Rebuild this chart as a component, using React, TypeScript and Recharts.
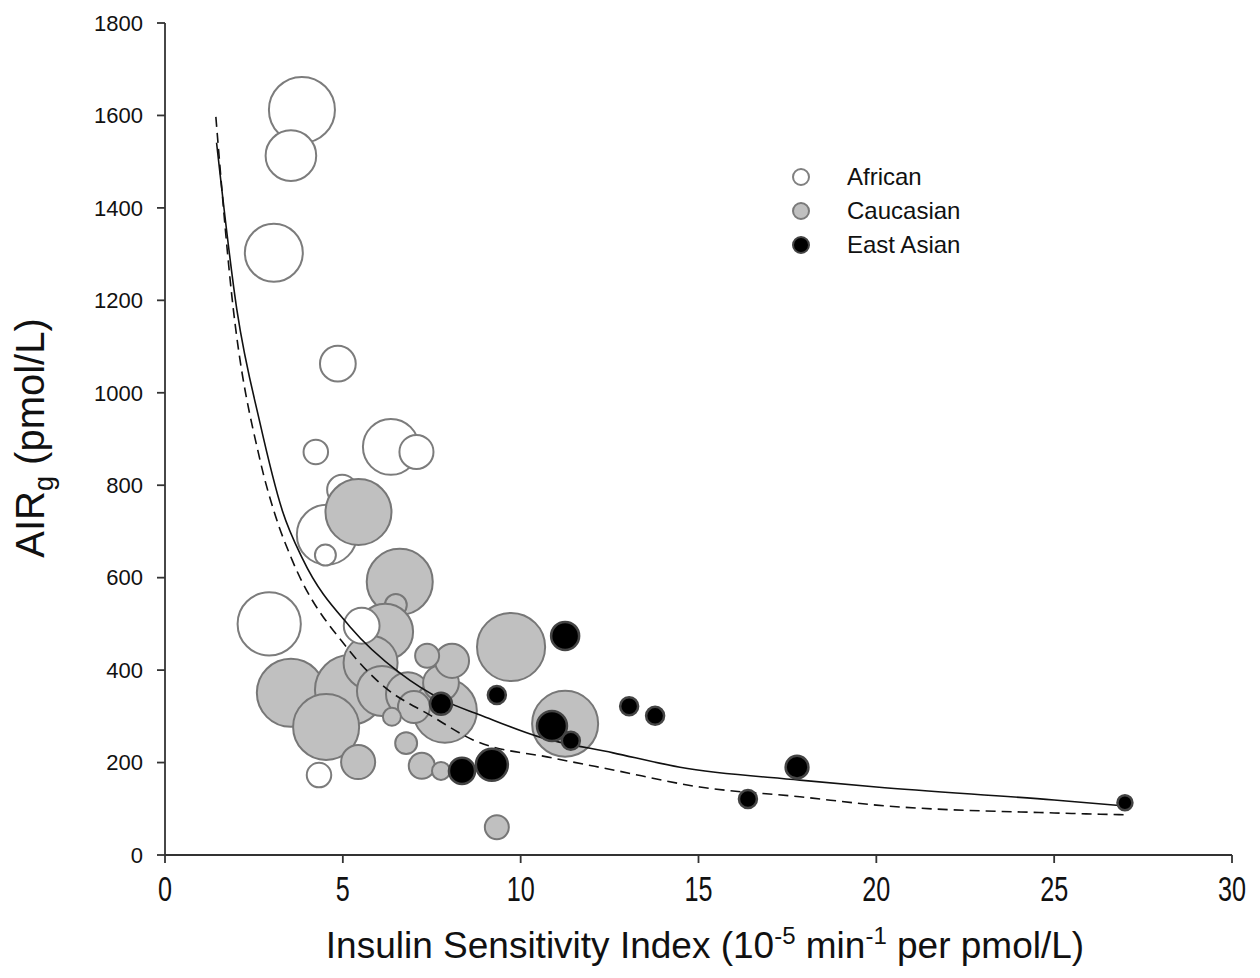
import { ScatterChart, Scatter, XAxis, YAxis, ZAxis, Legend } from 'recharts';

// bubbles: x = insulin sensitivity, y = AIRg, z = relative bubble size
const african = [
  { x: 3.85, y: 1612, z: 1090 },
  { x: 3.54, y: 1513, z: 640 },
  { x: 3.06, y: 1303, z: 840 },
  { x: 4.86, y: 1063, z: 320 },
  { x: 4.24, y: 872, z: 150 },
  { x: 6.35, y: 883, z: 780 },
  { x: 7.07, y: 872, z: 290 },
  { x: 4.98, y: 790, z: 225 },
  { x: 4.55, y: 693, z: 900 },
  { x: 4.51, y: 649, z: 110 },
  { x: 2.93, y: 500, z: 1000 },
  { x: 4.33, y: 173, z: 150 },
];

// this one sits on top of the grey bubbles in the original
const africanFront = [{ x: 5.53, y: 496, z: 320 }];

const caucasian = [
  { x: 5.44, y: 742, z: 1090 },
  { x: 6.6, y: 591, z: 1090 },
  { x: 6.49, y: 541, z: 120 },
  { x: 6.19, y: 483, z: 780 },
  { x: 3.54, y: 351, z: 1160 },
  { x: 5.2, y: 357, z: 1225 },
  { x: 4.53, y: 277, z: 1090 },
  { x: 5.78, y: 416, z: 730 },
  { x: 6.1, y: 355, z: 625 },
  { x: 6.83, y: 348, z: 480 },
  { x: 7.87, y: 312, z: 1020 },
  { x: 7.0, y: 320, z: 256 },
  { x: 6.38, y: 299, z: 81 },
  { x: 7.76, y: 372, z: 320 },
  { x: 8.07, y: 420, z: 290 },
  { x: 7.37, y: 431, z: 144 },
  { x: 6.78, y: 242, z: 120 },
  { x: 5.43, y: 201, z: 290 },
  { x: 7.22, y: 193, z: 170 },
  { x: 7.76, y: 182, z: 81 },
  { x: 9.33, y: 60, z: 144 },
  { x: 9.73, y: 450, z: 1160 },
  { x: 11.25, y: 284, z: 1090 },
];

const eastAsian = [
  { x: 7.76, y: 327, z: 121 },
  { x: 8.35, y: 182, z: 170 },
  { x: 9.19, y: 195, z: 256 },
  { x: 9.33, y: 346, z: 81 },
  { x: 11.25, y: 474, z: 196 },
  { x: 10.88, y: 279, z: 225 },
  { x: 11.41, y: 247, z: 81 },
  { x: 13.05, y: 322, z: 81 },
  { x: 13.78, y: 301, z: 81 },
  { x: 16.39, y: 121, z: 81 },
  { x: 17.77, y: 190, z: 130 },
  { x: 26.99, y: 113, z: 56 },
];

// fitted curves
const solidFit = [
  { x: 1.45, y: 1541 },
  { x: 2.02, y: 1180 },
  { x: 2.67, y: 935 },
  { x: 3.3, y: 745 },
  { x: 3.88, y: 639 },
  { x: 5.2, y: 494 },
  { x: 6.6, y: 394 },
  { x: 7.82, y: 335 },
  { x: 8.86, y: 303 },
  { x: 10.54, y: 255 },
  { x: 12.6, y: 221 },
  { x: 14.48, y: 190 },
  { x: 17.85, y: 162 },
  { x: 20, y: 147 },
  { x: 25, y: 119 },
  { x: 27, y: 106 },
];

const dashedFit = [
  { x: 1.43, y: 1597 },
  { x: 1.87, y: 1216 },
  { x: 2.67, y: 855 },
  { x: 3.1, y: 735 },
  { x: 3.57, y: 639 },
  { x: 5.12, y: 448 },
  { x: 6.04, y: 372 },
  { x: 7.53, y: 299 },
  { x: 8.66, y: 249 },
  { x: 10.9, y: 210 },
  { x: 12.6, y: 184 },
  { x: 15.04, y: 147 },
  { x: 17.85, y: 126 },
  { x: 20, y: 108 },
  { x: 25, y: 91 },
  { x: 27, y: 87 },
];

const xTicks = [0, 5, 10, 15, 20, 25, 30];
const yTicks = [0, 200, 400, 600, 800, 1000, 1200, 1400, 1600, 1800];

const legendItems = [
  { name: 'African', fill: '#ffffff', stroke: '#808080' },
  { name: 'Caucasian', fill: '#c0c0c0', stroke: '#7a7a7a' },
  { name: 'East Asian', fill: '#000000', stroke: '#444444' },
];

const SANS = "'Liberation Sans', Arial, Helvetica, sans-serif";

const NoDot = () => <g />;

// x tick labels are tall and narrow in the original
const XTick = (props: any) => {
  const { x, y, payload } = props;
  return (
    <g transform={`translate(${x},${y})`}>
      <text transform="scale(0.72,1)" textAnchor="middle" dy="0.71em" fontSize={35} fontFamily={SANS} fill="#111">
        {payload.value}
      </text>
    </g>
  );
};

const yTitle = () => (
  <text
    x={44}
    y={438}
    transform="rotate(-90 44 438)"
    textAnchor="middle"
    fontFamily={SANS}
    fontSize={40}
    fill="#111"
  >
    AIR
    <tspan fontSize={27} dy={9}>g</tspan>
    <tspan dy={-9}> (pmol/L)</tspan>
  </text>
);

const xTitle = () => (
  <text x={705} y={958} textAnchor="middle" fontFamily={SANS} fontSize={37} fill="#111">
    Insulin Sensitivity Index (10
    <tspan fontSize={24} dy={-14}>-5</tspan>
    <tspan dy={14}> min</tspan>
    <tspan fontSize={24} dy={-14}>-1</tspan>
    <tspan dy={14}> per pmol/L)</tspan>
  </text>
);

const renderLegend = () => (
  <div style={{ fontFamily: SANS, fontSize: 24, color: '#111' }}>
    {legendItems.map((it) => (
      <div key={it.name} style={{ display: 'flex', alignItems: 'center', height: 34 }}>
        <svg width={22} height={22} style={{ marginRight: 35 }}>
          <circle cx={11} cy={11} r={8} fill={it.fill} stroke={it.stroke} strokeWidth={2} />
        </svg>
        <span>{it.name}</span>
      </div>
    ))}
  </div>
);

export default function App() {
  return (
    <div style={{ position: 'absolute', left: 0, top: 0, background: '#fff' }}>
      <ScatterChart width={1260} height={978} margin={{ top: 23, right: 28, bottom: 0, left: 0 }}>
        <XAxis
          type="number"
          dataKey="x"
          domain={[0, 30]}
          ticks={xTicks}
          interval={0}
          height={123}
          stroke="#333"
          strokeWidth={1.8}
          tickSize={8}
          tickMargin={13}
          tick={<XTick />}
          label={xTitle}
        />
        <YAxis
          type="number"
          dataKey="y"
          domain={[0, 1800]}
          ticks={yTicks}
          interval={0}
          width={165}
          stroke="#333"
          strokeWidth={1.8}
          tickSize={8}
          tickMargin={14}
          tick={{ fill: '#111', fontSize: 22, fontFamily: SANS }}
          label={yTitle}
        />
        <ZAxis type="number" dataKey="z" domain={[0, 1600]} range={[0, 1600 * Math.PI]} />

        <Legend
          layout="vertical"
          align="center"
          verticalAlign="middle"
          content={renderLegend}
          wrapperStyle={{ position: 'absolute', left: 790, top: 160, width: 220 }}
        />

        <Scatter name="African" data={african} fill="#ffffff" stroke="#7c7c7c" strokeWidth={2} isAnimationActive={false} />
        <Scatter name="Caucasian" data={caucasian} fill="#c0c0c0" stroke="#777777" strokeWidth={2} isAnimationActive={false} />
        <Scatter name="African " data={africanFront} fill="#ffffff" stroke="#7c7c7c" strokeWidth={2} isAnimationActive={false} />

        <Scatter
          name="fit"
          data={solidFit}
          line={{ stroke: '#111', strokeWidth: 1.6 }}
          lineJointType="monotoneX"
          shape={NoDot}
          isAnimationActive={false}
        />
        <Scatter
          name="fit2"
          data={dashedFit}
          line={{ stroke: '#111', strokeWidth: 1.6, strokeDasharray: '10 6' }}
          lineJointType="monotoneX"
          shape={NoDot}
          isAnimationActive={false}
        />

        <Scatter name="East Asian" data={eastAsian} fill="#000000" stroke="#444444" strokeWidth={2.5} isAnimationActive={false} />
      </ScatterChart>
    </div>
  );
}
